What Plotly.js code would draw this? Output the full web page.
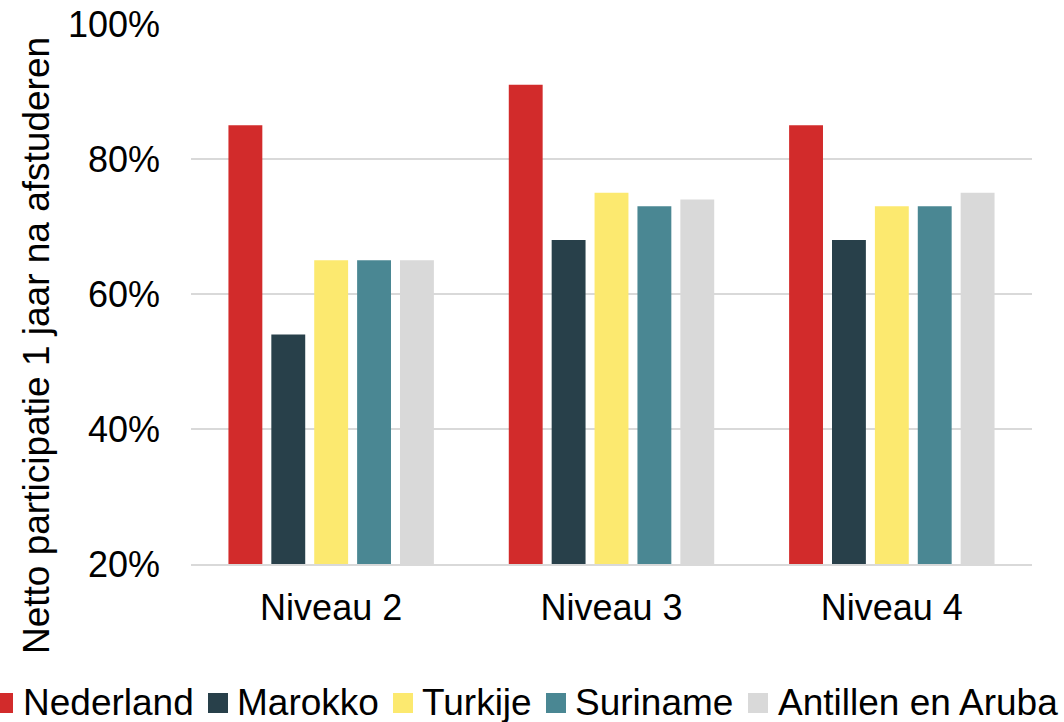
<!DOCTYPE html>
<html>
<head>
<meta charset="utf-8">
<script src="https://cdn.plot.ly/plotly-3.0.1.min.js"></script>
<style>html,body{margin:0;padding:0;background:#fff;}#chart{width:1064px;height:722px;}</style>
</head>
<body>
<div id="chart"></div>
<script>
const categories = ["Niveau 2", "Niveau 3", "Niveau 4"];
const seriesNames = ["Nederland", "Marokko", "Turkije", "Suriname", "Antillen en Aruba"];
const nederland = [0.85, 0.91, 0.85];
const marokko = [0.54, 0.68, 0.68];
const turkije = [0.65, 0.75, 0.73];
const suriname = [0.65, 0.73, 0.73];
const antillen = [0.65, 0.74, 0.75];
const colors = ["#D22B2B", "#28404A", "#FCE96F", "#4A8793", "#D9D9D9"];
const tickVals = [0.2, 0.4, 0.6, 0.8, 1.0];
const tickText = ["20%", "40%", "60%", "80%", "100%"];
const yTitle = "Netto participatie 1 jaar na afstuderen";

const W = 1064, H = 722;
const M = {l: 191, r: 32, t: 24, b: 158};
const PW = W - M.l - M.r, PH = H - M.t - M.b;
const px = x => (x - M.l) / PW;          // pixel -> paper x
const py = y => (H - M.b - y) / PH;      // pixel -> paper y

const seriesValues = [nederland, marokko, turkije, suriname, antillen];
const traces = seriesValues.map((vals, i) => ({
  type: "bar",
  name: seriesNames[i],
  x: categories,
  y: vals,
  marker: {color: colors[i]},
  showlegend: false
}));

const font = "Liberation Sans, Arial, sans-serif";

// Custom single-row legend (matches reference spacing, first square clipped at left edge)
const legendSquareX = [-7, 208, 393, 546, 748];
const legendTextX = [21, 235, 420, 573, 776];
const shapes = seriesNames.map((n, i) => ({
  type: "rect", xref: "paper", yref: "paper",
  x0: px(legendSquareX[i]), x1: px(legendSquareX[i] + 20),
  y0: py(713), y1: py(693),
  fillcolor: colors[i], line: {width: 0}
}));
const annotations = seriesNames.map((n, i) => ({
  text: n, xref: "paper", yref: "paper",
  x: px(legendTextX[i]), y: py(702),
  xanchor: "left", yanchor: "middle", showarrow: false,
  font: {family: font, size: 37, color: "#000"}
}));
annotations.push({
  text: yTitle, xref: "paper", yref: "paper",
  x: px(36), y: py(346), textangle: -90,
  xanchor: "center", yanchor: "middle", showarrow: false,
  font: {family: font, size: 37, color: "#000"}
});

const layout = {
  width: W, height: H,
  margin: M,
  paper_bgcolor: "#fff", plot_bgcolor: "#fff",
  barmode: "group",
  bargap: 0.235,
  bargroupgap: 0.21,
  font: {family: font, size: 36, color: "#000"},
  xaxis: {
    type: "category",
    showgrid: false,
    showline: true, linecolor: "#D9D9D9", linewidth: 2,
    ticks: "", ticklabelstandoff: 11,
    tickfont: {family: font, size: 36, color: "#000"}
  },
  yaxis: {
    range: [0.2, 1.0],
    tickvals: tickVals, ticktext: tickText,
    showgrid: true, gridcolor: "#D9D9D9", gridwidth: 2,
    zeroline: false, showline: false,
    ticks: "", ticklabelstandoff: 30,
    tickfont: {family: font, size: 36, color: "#000"}
  },
  showlegend: false,
  shapes: shapes,
  annotations: annotations
};

Plotly.newPlot("chart", traces, layout, {displayModeBar: false, staticPlot: true});
</script>
</body>
</html>
